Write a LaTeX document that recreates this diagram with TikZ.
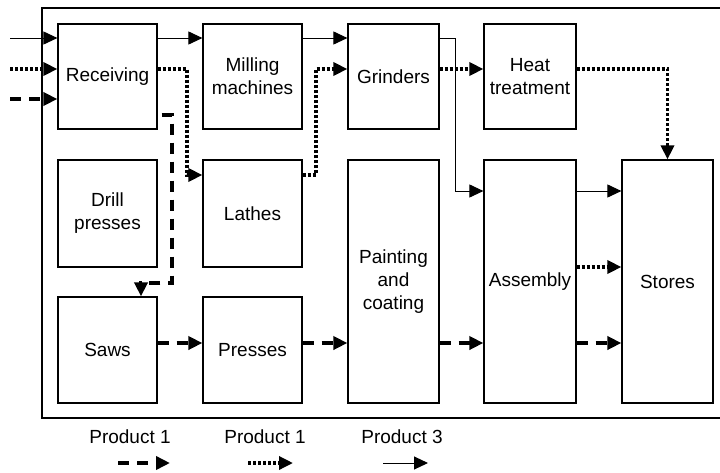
\documentclass[tikz,border=0pt]{standalone}
\usepackage{fontspec}
\setmainfont{Liberation Sans}
\usepackage{tikz}
\usetikzlibrary{arrows.meta,calc,positioning}

\begin{document}
\begin{tikzpicture}[x=1pt,y=-1pt,
    font=\fontsize{19}{23}\selectfont,
    stationbox/.style={draw,line width=1.2pt,align=center,inner sep=0pt,
      minimum width=#1},
    stationbox/.default=99pt,
    flowsolid/.style={line width=1pt,-{Triangle[length=14pt,width=13pt]}},
    flowdot/.style={line width=3.3pt,dash pattern=on 3pt off 2pt,
      -{Triangle[length=14pt,width=13pt]}},
    flowdash/.style={line width=3.5pt,dash pattern=on 11pt off 8pt,
      -{Triangle[length=14pt,width=13pt]}}]
    \useasboundingbox (0,0) rectangle (720,472);

    % plant outline (open to the right)
    \draw[line width=1.2pt] (720,8) -- (42,8) -- (42,418) -- (720,418);

    \node[stationbox,minimum height=105pt] (rcv) at (107.5,76.5) {Receiving};
    \node[stationbox,minimum height=105pt] (mill) at (252.5,76.5) {Milling\\machines};
    \node[stationbox=91pt,minimum height=105pt] (grd) at (393.5,76.5) {Grinders};
    \node[stationbox=92pt,minimum height=105pt] (heat) at (530,76.5) {Heat\\treatment};

    \node[stationbox,minimum height=107pt] (drl) at (107.5,213.5) {Drill\\presses};
    \node[stationbox,minimum height=107pt] (lat) at (252.5,213.5) {Lathes};

    \node[stationbox,minimum height=106pt] (saw) at (107.5,350) {Saws};
    \node[stationbox,minimum height=106pt] (prs) at (252.5,350) {Presses};

    \node[stationbox=91pt,minimum height=243pt] (pnt) at (393.5,281.5) {Painting\\and\\coating};
    \node[stationbox=92pt,minimum height=243pt] (asm) at (530,281.5) {Assembly};
    \node[stationbox=91pt,minimum height=243pt] (sto) at (667.5,281.5) {Stores};

    \coordinate (in1) at (10,38);
    \coordinate (in2) at (10,69);
    \coordinate (in3) at (10,99);

    % product 3
    \draw[flowsolid] (in1) -- (rcv.west |- in1);
    \draw[flowsolid] (rcv.east |- 0,38) -- (mill.west |- 0,38);
    \draw[flowsolid] (mill.east |- 0,38) -- (grd.west |- 0,38);
    \draw[flowsolid] (grd.east |- 0,38) -- (455,38) -- (455,191) -- (asm.west |- 0,191);
    \draw[flowsolid] (asm.east |- 0,191) -- (sto.west |- 0,191);

    % product 1 (dotted)
    \draw[flowdot] (in2) -- (rcv.west |- in2);
    \draw[flowdot] (rcv.east |- 0,69) -- (187,69) -- (187,175) -- (lat.west |- 0,175);
    \draw[flowdot] (lat.east |- 0,175) -- (316,175) -- (316,69) -- (grd.west |- 0,69);
    \draw[flowdot] (grd.east |- 0,69) -- (heat.west |- 0,69);
    \draw[flowdot] (heat.east |- 0,69) -| (sto.north);
    \draw[flowdot] (asm.east |- 0,267) -- (sto.west |- 0,267);

    % product 1 (dashed)
    \draw[flowdash] (in3) -- (rcv.west |- in3);
    \draw[flowdash] ([xshift=4pt]rcv.east |- 0,115) -- (172,115) -- (172,283) -- (141,283)
      -- (141,0 |- saw.north);
    \draw[flowdash] (saw.east |- 0,343) -- (prs.west |- 0,343);
    \draw[flowdash] (prs.east |- 0,343) -- (pnt.west |- 0,343);
    \draw[flowdash] (pnt.east |- 0,343) -- (asm.west |- 0,343);
    \draw[flowdash] (asm.east |- 0,343) -- (sto.west |- 0,343);

    % legend
    \node (lgA) at (130,437) {Product 1};
    \node (lgB) at (265,437) {Product 1};
    \node (lgC) at (402,437) {Product 3};
    \coordinate (lgAs) at (118,463);
    \coordinate (lgAe) at (170,463);
    \coordinate (lgBs) at (248,463);
    \coordinate (lgBe) at (293,463);
    \coordinate (lgCs) at (383,463);
    \coordinate (lgCe) at (428,463);
    \draw[flowdash] (lgAs) -- (lgAe);
    \draw[flowdot] (lgBs) -- (lgBe);
    \draw[flowsolid] (lgCs) -- (lgCe);
  \end{tikzpicture}
\end{document}
